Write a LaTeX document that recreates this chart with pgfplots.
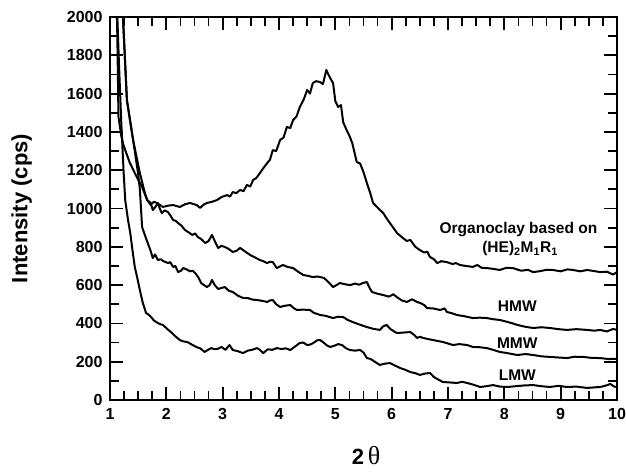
\documentclass[border=0pt]{standalone}
\usepackage{fontspec}
\setmainfont{Liberation Sans}
\newfontfamily\greekfont{Liberation Serif}
\usepackage{pgfplots}
\pgfplotsset{compat=1.18}
\begin{document}
\begin{tikzpicture}
\begin{axis}[
  name=ax,
  scale only axis,
  width=507pt, height=383pt,
  xmin=1, xmax=10, ymin=0, ymax=2000,
  xtick={1,...,10}, ytick={0,200,...,2000},
  minor x tick num=3, minor y tick num=1,
  tick align=inside, tick pos=both,
  major tick length=13pt, minor tick length=9pt,
  every tick/.style={line width=1.8pt, black},
  axis line style={line width=2.2pt},
  /pgf/number format/assume math mode=true,
  /pgf/number format/1000 sep={},
  ticklabel style={font=\bfseries\fontsize{16}{16}\selectfont},
  yticklabel style={xshift=-4pt},
  xticklabel style={yshift=-5pt},
  ylabel={\bfseries\fontsize{22}{22}\selectfont Intensity (cps)},
  ylabel style={at={(axis description cs:-0.174,0.5)}, anchor=center},
  xlabel={\bfseries\fontsize{22}{22}\selectfont 2\,{\greekfont\mdseries\fontsize{26}{26}\selectfont θ}},
  xlabel style={at={(axis description cs:0.505,-0.144)}, anchor=center},
  no markers,
  every axis plot post/.append style={black, line width=2pt, line join=round},
  clip=true,
]
% Organoclay
\addplot coordinates {
(1.18,2300)(1.23,2000)(1.30,1566)(1.41,1358)(1.53,1185)(1.62,1080)(1.66,1044)
(1.72,1020)(1.78,1035)(1.83,1029)(1.94,1008)(2.03,1015)(2.12,1018)(2.24,1008)
(2.33,1022)(2.42,1029)(2.54,1018)(2.60,1003)(2.66,1020)(2.72,1029)(2.81,1035)
(2.90,1044)(2.98,1060)(3.08,1070)(3.13,1062)(3.18,1086)(3.24,1080)(3.31,1097)
(3.37,1090)(3.43,1123)(3.49,1115)(3.54,1149)(3.60,1160)(3.66,1185)(3.72,1210)
(3.79,1237)(3.84,1255)(3.89,1305)(3.95,1300)(4.02,1358)(4.08,1370)(4.14,1426)
(4.20,1420)(4.25,1462)(4.31,1480)(4.37,1530)(4.44,1570)(4.50,1619)(4.55,1600)
(4.60,1655)(4.66,1665)(4.73,1660)(4.78,1650)(4.84,1723)(4.91,1680)(4.96,1655)
(5.00,1560)(5.05,1530)(5.10,1540)(5.14,1450)(5.20,1410)(5.25,1380)(5.30,1342)
(5.38,1243)(5.44,1235)(5.50,1190)(5.56,1133)(5.62,1080)(5.67,1029)(5.75,1005)
(5.85,976)(5.93,940)(6.02,903)(6.10,870)(6.20,846)(6.27,830)(6.33,836)(6.42,800)
(6.50,783)(6.58,770)(6.63,775)(6.68,747)(6.75,735)(6.81,715)(6.88,725)(6.98,720)
(7.08,710)(7.14,715)(7.21,705)(7.32,700)(7.44,695)(7.52,705)(7.60,690)(7.69,689)
(7.80,685)(7.92,679)(8.03,690)(8.15,689)(8.30,675)(8.42,680)(8.51,668)(8.62,672)
(8.75,680)(8.86,679)(9.00,672)(9.12,682)(9.22,679)(9.35,672)(9.47,679)(9.60,673)
(9.70,668)(9.82,670)(9.93,655)(10.0,668)
};
% HMW
\addplot coordinates {
(1.11,2200)(1.13,1900)(1.14,1700)(1.15,1480)(1.20,1380)(1.24,1330)(1.27,1305)
(1.35,1240)(1.44,1185)(1.50,1150)(1.57,1112)(1.66,1044)(1.72,1030)(1.76,992)
(1.81,1010)(1.85,1029)(1.89,995)(1.92,976)(1.97,990)(2.03,981)(2.08,960)(2.12,940)
(2.17,935)(2.21,924)(2.27,910)(2.33,888)(2.40,875)(2.46,862)(2.51,870)(2.56,851)
(2.62,840)(2.69,820)(2.75,830)(2.81,862)(2.86,830)(2.92,794)(2.98,805)(3.04,799)
(3.10,790)(3.18,773)(3.25,780)(3.31,794)(3.40,775)(3.49,757)(3.57,745)(3.66,731)
(3.72,725)(3.79,715)(3.84,722)(3.89,720)(3.96,689)(4.02,698)(4.07,705)(4.15,695)
(4.25,689)(4.34,670)(4.43,653)(4.52,648)(4.60,642)(4.68,645)(4.73,642)(4.80,637)
(4.88,615)(4.96,590)(5.02,600)(5.08,611)(5.16,605)(5.26,600)(5.35,608)(5.42,602)
(5.49,611)(5.56,616)(5.60,590)(5.65,564)(5.75,555)(5.85,548)(5.95,540)(6.03,552)
(6.09,538)(6.18,520)(6.27,512)(6.36,526)(6.45,512)(6.52,505)(6.58,495)(6.63,480)
(6.74,478)(6.86,470)(6.94,478)(6.98,460)(7.08,452)(7.16,444)(7.30,437)(7.44,428)
(7.56,430)(7.69,428)(7.80,422)(7.92,418)(8.05,408)(8.15,400)(8.23,392)(8.38,382)
(8.51,376)(8.66,380)(8.81,376)(8.96,370)(9.11,366)(9.28,370)(9.47,366)(9.60,362)
(9.70,366)(9.82,358)(9.93,371)(10.0,366)
};
% MMW
\addplot coordinates {
(1.18,2300)(1.23,2000)(1.30,1566)(1.41,1358)(1.50,1180)(1.53,1100)(1.57,903)
(1.62,860)(1.67,820)(1.72,780)(1.76,741)(1.80,760)(1.85,731)(1.90,735)(1.95,725)
(2.03,715)(2.07,720)(2.12,695)(2.16,700)(2.21,668)(2.26,675)(2.30,689)(2.36,682)
(2.42,672)(2.47,675)(2.52,660)(2.57,640)(2.62,610)(2.67,600)(2.72,590)(2.77,600)
(2.81,627)(2.86,600)(2.92,580)(2.98,585)(3.04,590)(3.10,572)(3.18,564)(3.27,545)
(3.36,533)(3.45,532)(3.52,525)(3.61,522)(3.70,518)(3.79,512)(3.84,520)(3.89,522)
(3.95,500)(4.02,486)(4.10,492)(4.20,496)(4.26,480)(4.32,470)(4.42,472)(4.55,470)
(4.62,455)(4.73,444)(4.82,440)(4.96,428)(5.05,435)(5.14,433)(5.22,418)(5.31,407)
(5.42,395)(5.56,381)(5.67,372)(5.79,366)(5.85,385)(5.91,392)(5.98,370)(6.09,350)
(6.20,352)(6.33,355)(6.40,340)(6.45,324)(6.50,330)(6.56,324)(6.65,318)(6.74,313)
(6.82,308)(6.91,303)(7.00,295)(7.09,287)(7.20,292)(7.34,287)(7.44,277)(7.55,276)
(7.69,271)(7.80,262)(7.92,251)(8.05,245)(8.23,235)(8.38,240)(8.51,235)(8.66,228)
(8.81,225)(8.96,222)(9.11,219)(9.25,226)(9.40,225)(9.55,220)(9.70,219)(9.85,214)
(10.0,215)
};
% LMW
\addplot coordinates {
(1.10,2300)(1.13,2000)(1.16,1750)(1.20,1450)(1.24,1200)(1.27,1044)(1.32,940)
(1.36,872)(1.40,780)(1.44,695)(1.49,630)(1.53,574)(1.58,510)(1.64,454)(1.69,445)
(1.73,433)(1.78,415)(1.85,402)(1.90,395)(1.94,392)(2.02,370)(2.10,350)(2.17,330)
(2.24,313)(2.30,306)(2.37,303)(2.45,290)(2.53,277)(2.60,270)(2.68,251)(2.74,262)
(2.80,271)(2.86,265)(2.92,268)(2.98,277)(3.05,262)(3.12,287)(3.18,261)(3.27,255)
(3.36,245)(3.45,258)(3.52,262)(3.61,271)(3.66,262)(3.72,245)(3.80,265)(3.88,262)
(3.96,271)(4.05,266)(4.12,270)(4.20,261)(4.28,278)(4.37,298)(4.43,300)(4.50,287)
(4.56,290)(4.62,300)(4.68,312)(4.73,313)(4.80,298)(4.85,285)(4.91,277)(4.98,283)
(5.05,292)(5.12,287)(5.19,270)(5.26,261)(5.35,258)(5.44,261)(5.50,248)(5.56,219)
(5.62,215)(5.70,200)(5.79,183)(5.88,190)(5.97,193)(6.06,180)(6.15,167)(6.24,158)
(6.33,146)(6.42,140)(6.50,131)(6.59,138)(6.68,141)(6.75,120)(6.82,108)(6.91,94)
(7.02,92)(7.16,89)(7.25,95)(7.34,89)(7.45,80)(7.57,68)(7.68,72)(7.80,78)(7.92,70)
(8.05,68)(8.20,72)(8.35,76)(8.51,78)(8.66,72)(8.81,68)(8.96,74)(9.11,68)(9.28,70)
(9.47,63)(9.60,66)(9.70,68)(9.80,75)(9.88,84)(9.95,70)(10.0,68)
};
\node[font=\bfseries\fontsize{15.5}{15.5}\selectfont] at (axis cs:8.25,888) {Organoclay based on};
\node[font=\bfseries\fontsize{15.5}{15.5}\selectfont] at (axis cs:8.28,790) {(HE)\textsubscript{2}M\textsubscript{1}R\textsubscript{1}};
\node[font=\bfseries\fontsize{15.5}{15.5}\selectfont] at (axis cs:8.23,488) {HMW};
\node[font=\bfseries\fontsize{15.5}{15.5}\selectfont] at (axis cs:8.23,298) {MMW};
\node[font=\bfseries\fontsize{15.5}{15.5}\selectfont] at (axis cs:8.23,131) {LMW};
\end{axis}
\pgfresetboundingbox
\path ([shift={(-110pt,-72pt)}]ax.south west) rectangle ([shift={(9pt,17pt)}]ax.north east);
\end{tikzpicture}
\end{document}
